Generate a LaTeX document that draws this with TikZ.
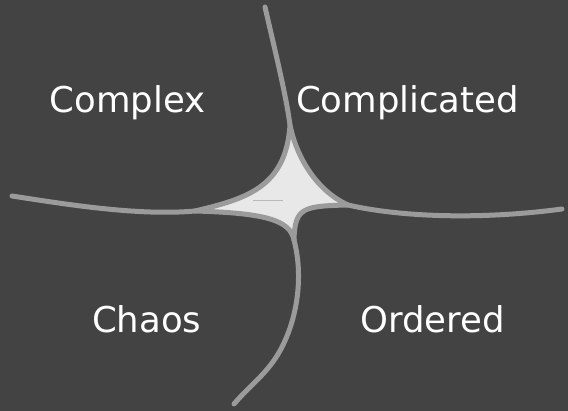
\documentclass[tikz,border=0pt]{standalone}
\usepackage{fontspec}
\setmainfont{DejaVu Sans}
\definecolor{bgdark}{HTML}{434343}
\definecolor{edgegray}{HTML}{9B9B9B}
\definecolor{corefill}{HTML}{E8E8E8}
\tikzset{
  zonelabel/.style={text=white, anchor=base, font=\fontsize{35.5}{40}\selectfont},
  boundary/.style={draw=edgegray, line width=5pt, line cap=round, line join=round},
}

\begin{document}
\begin{tikzpicture}[x=1pt, y=-1pt]
  \fill[bgdark] (0,0) rectangle (568,411);
  \useasboundingbox (0,0) rectangle (568,411);
  % tips of the centre
  \coordinate (T) at (290,125);
  \coordinate (L) at (195,211);
  \coordinate (R) at (348,205);
  \coordinate (B) at (294,240);
  % the four boundaries
  \draw[boundary] (265,7) .. controls (276,55) and (286,95) .. (T);
  \draw[boundary] (12,196) .. controls (70,205) and (140,216) .. (L);
  \draw[boundary] (R) .. controls (400,217) and (480,220) .. (562,209);
  \draw[boundary] (B) .. controls (302,270) and (300,310) .. (283,345)
                      .. controls (270,372) and (250,385) .. (234,404);
  % disorder in the middle
  \filldraw[boundary, fill=corefill] (T) .. controls (296,155) and (315,190) .. (R)
        .. controls (302,206) and (295,208) .. (B)
        .. controls (290,220) and (265,213) .. (L)
        .. controls (245,199) and (286,188) .. cycle;
  \draw[edgegray!70, line width=0.8pt] (253,200) -- (283,200);
  % domains
  \node[zonelabel] (complex) at (127.5,113) {Complex};
  \node[zonelabel] (complicated) at (407.5,113) {Complicated};
  \node[zonelabel] (chaos) at (146.7,333) {Chaos};
  \node[zonelabel] (ordered) at (432.5,333) {Ordered};
\end{tikzpicture}
\end{document}
